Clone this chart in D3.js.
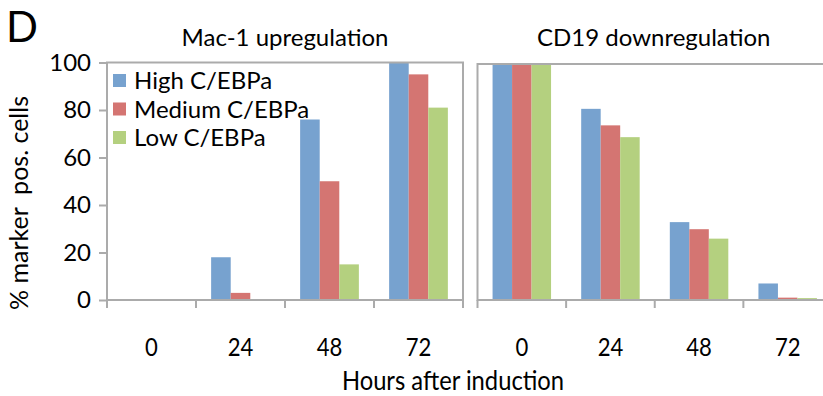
<!DOCTYPE html>
<html>
<head>
<meta charset="utf-8">
<script src="https://cdn.jsdelivr.net/npm/d3@7"></script>
<style>
  body { margin: 0; background: #fff; }
  text { font-family: Lato, 'Open Sans', sans-serif; fill: #000; }
</style>
</head>
<body>
<svg width="823" height="396"></svg>
<script>
var hours = ['0', '24', '48', '72']
var series = ['High C/EBPa', 'Medium C/EBPa', 'Low C/EBPa']
var colors = ['#77a2cf', '#d47572', '#b4d07f']
var yTicks = [0, 20, 40, 60, 80, 100]

// Mac-1 upregulation, one array per C/EBPa level
var macHigh = [0, 18, 76, 100]
var macMedium = [0, 3, 50, 95]
var macLow = [0, 0, 15, 81]

// CD19 downregulation
var cdHigh = [100, 81, 33, 7]
var cdMedium = [100, 74, 30, 1]
var cdLow = [100, 69, 26, 0.8]

var panels = [
  { title: 'Mac-1 upregulation', left: 107, right: 463, top: 62.5, values: [macHigh, macMedium, macLow], yAxis: true },
  { title: 'CD19 downregulation', left: 477.5, right: 832, top: 64, values: [cdHigh, cdMedium, cdLow], yAxis: false }
]

var bottom = 300
var gray = '#ababab'

var svg = d3.select('svg')

svg.append('text')
    .attr('x', 6)
    .attr('y', 42)
    .style('font-size', '42px')
    .text('D')

panels.forEach(function (p) {
  var g = svg.append('g')

  var x = d3.scaleBand().domain(hours).range([p.left, p.right])
  var x1 = d3.scaleBand().domain(series).range([x.bandwidth() * 0.17, x.bandwidth() * 0.83])
  var y = d3.scaleLinear().domain([0, 100]).range([bottom, p.top])

  // bars
  series.forEach(function (s, i) {
    g.selectAll('.bar' + i)
        .data(hours)
      .enter().append('rect')
        .attr('x', d => x(d) + x1(s))
        .attr('width', x1.bandwidth())
        .attr('y', (d, j) => y(p.values[i][j]))
        .attr('height', (d, j) => bottom - y(p.values[i][j]))
        .attr('fill', colors[i])
  })

  // frame
  g.append('rect')
      .attr('x', p.left)
      .attr('y', p.top)
      .attr('width', p.right - p.left)
      .attr('height', bottom - p.top)
      .attr('fill', 'none')
      .attr('stroke', gray)
      .attr('stroke-width', 2)

  // category separators
  g.selectAll('.sep')
      .data(hours.concat(['end']))
    .enter().append('line')
      .attr('x1', d => d === 'end' ? p.right : x(d))
      .attr('x2', d => d === 'end' ? p.right : x(d))
      .attr('y1', bottom)
      .attr('y2', bottom + 8)
      .attr('stroke', gray)
      .attr('stroke-width', 2)

  // category labels
  var xAxis = g.append('g')
      .attr('transform', 'translate(0,' + bottom + ')')
      .call(d3.axisBottom(x).tickSize(0).tickPadding(38))
  xAxis.select('.domain').remove()
  xAxis.selectAll('.tick text')
      .style('font-size', '26px')
      .style('font-family', 'Lato, sans-serif')
      .attr('transform', 'scale(0.85,1)')

  if (p.yAxis) {
    var yAxis = g.append('g')
        .attr('transform', 'translate(' + p.left + ',0)')
        .call(d3.axisLeft(y).tickValues(yTicks).tickSize(8).tickPadding(8))
    yAxis.select('.domain').remove()
    yAxis.selectAll('line').attr('stroke', gray).attr('stroke-width', 2)
    yAxis.selectAll('text').style('font-size', '24px').style('font-family', 'Lato, sans-serif')
  }

  g.append('text')
      .attr('x', (p.left + Math.min(p.right, 830)) / 2)
      .attr('y', 46)
      .attr('text-anchor', 'middle')
      .style('font-size', '24px')
      .text(p.title)
})

// legend
var legend = svg.append('g')
series.forEach(function (s, i) {
  legend.append('rect')
      .attr('x', 113)
      .attr('y', 74 + i * 28.5)
      .attr('width', 13)
      .attr('height', 13)
      .attr('fill', colors[i])
  legend.append('text')
      .attr('x', 134)
      .attr('y', 81 + i * 28.5)
      .attr('dy', '0.35em')
      .style('font-size', '24px')
      .text(s)
})

svg.append('text')
    .attr('transform', 'translate(28,' + 203 + ') rotate(-90)')
    .attr('text-anchor', 'middle')
    .style('font-size', '25px')
    .style('white-space', 'pre')
    .text('% marker  pos. cells')

svg.append('text')
    .attr('x', 453)
    .attr('y', 390)
    .attr('text-anchor', 'middle')
    .attr('transform', 'translate(453,0) scale(0.88,1) translate(-453,0)')
    .style('font-size', '27px')
    .text('Hours after induction')
</script>
</body>
</html>
